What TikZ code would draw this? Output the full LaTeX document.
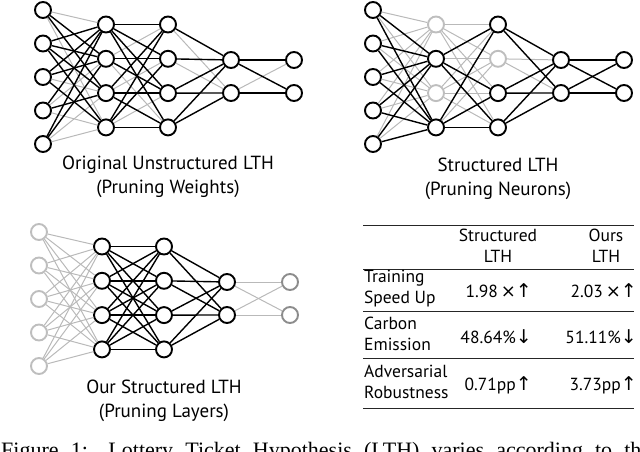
\documentclass[tikz,border=0pt]{standalone}
\usepackage{fontspec}
\setmainfont{PT Sans}
\newfontfamily\arrfont{DejaVu Sans}
\newfontfamily\capfont{Liberation Serif}
\usepackage{xcolor}
\definecolor{offc}{RGB}{190,190,190}
\definecolor{cutc}{RGB}{185,185,185}
\definecolor{outc}{RGB}{140,140,140}
\tikzset{
  neu/.style={circle,draw=black,line width=1.9pt,fill=white,minimum size=16pt,inner sep=0pt},
  neuoff/.style={neu,draw=offc},
  neuout/.style={neu,draw=outc},
  keep/.style={line width=1.4pt,black},
  cut/.style={line width=1pt,cutc},
  lab/.style={font=\fontsize{19}{24}\selectfont,align=center},
  cell/.style={font=\fontsize{17.5}{21}\selectfont,inner sep=0pt},
  rule/.style={line width=1pt,black!85},
}
\newcommand{\upa}{{\arrfont\fontsize{19}{19}\selectfont ↑}}
\newcommand{\dna}{{\arrfont\fontsize{19}{19}\selectfont ↓}}
\newcommand{\tms}{{\arrfont\fontsize{18}{18}\selectfont ×}}

\begin{document}
\begin{tikzpicture}[x=1pt,y=-1pt]
  \useasboundingbox (0,0) rectangle (640,452);
  % unstructured LTH (top left)
  \begin{scope}[shift={(43,77)}]
    \foreach \i in {1,...,5}{\node[neu] (u1\i) at (0,{-67+33.5*(\i-1)}){};}
    \foreach \i in {1,...,4}{
      \node[neu] (u2\i) at (63,{-52.5+34.3*(\i-1)}){};
      \node[neu] (u3\i) at (125,{-52.5+34.3*(\i-1)}){};}
    \foreach \i in {1,2}{
      \node[neu] (u4\i) at (188,{-17+33*(\i-1)}){};
      \node[neu] (u5\i) at (251,{-17+33*(\i-1)}){};}
    \foreach \s/\t in {1/1,1/4,3/3,4/2,4/4,5/3,5/4} \draw[cut] (u1\s)--(u2\t);
    \foreach \s/\t in {2/1,2/4,3/2,4/3} \draw[cut] (u2\s)--(u3\t);
    \foreach \s/\t in {1/2,2/2} \draw[cut] (u3\s)--(u4\t);
    \draw[cut] (u42)--(u51);
    \foreach \s/\t in {1/2,1/3,2/1,2/2,2/3,2/4,3/1,3/2,3/4,4/1,4/3,5/1,5/2} \draw[keep] (u1\s)--(u2\t);
    \foreach \s/\t in {1/1,1/2,1/3,1/4,2/2,2/3,3/1,3/3,3/4,4/1,4/2,4/4} \draw[keep] (u2\s)--(u3\t);
    \foreach \s/\t in {1/1,2/1,3/1,3/2,4/1,4/2} \draw[keep] (u3\s)--(u4\t);
    \foreach \s/\t in {1/1,1/2,2/2} \draw[keep] (u4\s)--(u5\t);
    \node[lab] (ucap) at (125,100) {Original Unstructured LTH\\(Pruning Weights)};
  \end{scope}
  % structured LTH, pruned neurons (top right)
  \begin{scope}[shift={(373,77)}]
    \foreach \i in {1,...,5}{\node[neu] (s1\i) at (0,{-67+33.5*(\i-1)}){};}
    \foreach \i/\st in {1/neuoff,2/neu,3/neuoff,4/neu}{
      \node[\st] (s2\i) at (63,{-52.5+34.3*(\i-1)}){};}
    \foreach \i/\st in {1/neu,2/neuoff,3/neu,4/neu}{
      \node[\st] (s3\i) at (125,{-52.5+34.3*(\i-1)}){};}
    \foreach \i in {1,2}{
      \node[neu] (s4\i) at (188,{-17+33*(\i-1)}){};
      \node[neu] (s5\i) at (251,{-17+33*(\i-1)}){};}
    \foreach \s in {1,...,5}{\draw[cut] (s1\s)--(s21); \draw[cut] (s1\s)--(s23);}
    \foreach \t in {1,...,4}{\draw[cut] (s21)--(s3\t); \draw[cut] (s23)--(s3\t);}
    \draw[cut] (s22)--(s32); \draw[cut] (s24)--(s32);
    \draw[cut] (s32)--(s41); \draw[cut] (s32)--(s42);
    \foreach \s in {1,...,5}{\draw[keep] (s1\s)--(s22); \draw[keep] (s1\s)--(s24);}
    \foreach \s in {2,4}{\foreach \t in {1,3,4} \draw[keep] (s2\s)--(s3\t);}
    \foreach \s in {1,3,4}{\foreach \t in {1,2} \draw[keep] (s3\s)--(s4\t);}
    \foreach \s in {1,2}{\foreach \t in {1,2} \draw[keep] (s4\s)--(s5\t);}
    \node[lab] (scap) at (125,102) {Structured LTH\\(Pruning Neurons)};
  \end{scope}
  % our structured LTH, pruned layers (bottom left)
  \begin{scope}[shift={(39,299)}]
    \foreach \i in {1,...,5}{\node[neuoff] (o1\i) at (0,{-67+33.5*(\i-1)}){};}
    \foreach \i in {1,...,4}{
      \node[neu] (o2\i) at (63,{-52.5+34.3*(\i-1)}){};
      \node[neu] (o3\i) at (125,{-52.5+34.3*(\i-1)}){};}
    \foreach \i in {1,2}{
      \node[neu] (o4\i) at (188,{-17+33*(\i-1)}){};
      \node[neuout] (o5\i) at (251,{-17+33*(\i-1)}){};}
    \foreach \s in {1,...,5}{\foreach \t in {1,...,4} \draw[cut] (o1\s)--(o2\t);}
    \foreach \s in {1,2}{\foreach \t in {1,2} \draw[cut] (o4\s)--(o5\t);}
    \foreach \s in {1,...,4}{\foreach \t in {1,...,4} \draw[keep] (o2\s)--(o3\t);}
    \foreach \s in {1,...,4}{\foreach \t in {1,2} \draw[keep] (o3\s)--(o4\t);}
    \node[lab] (ocap) at (125,102) {Our Structured LTH\\(Pruning Layers)};
  \end{scope}
  % comparison table (bottom right)
  \foreach \y in {225,269,311,358,408} \draw[rule] (363,\y)--(634,\y);
  \node[cell,align=center] (hs) at (498,246) {Structured\\LTH};
  \node[cell,align=center] (ho) at (606,246) {Ours\\LTH};
  \node[cell,align=left,anchor=west] (r1) at (364,289) {Training\\Speed Up};
  \node[cell,align=left,anchor=west] (r2) at (364,334) {Carbon\\Emission};
  \node[cell,align=left,anchor=west] (r3) at (364,382) {Adversarial\\Robustness};
  \node[cell,anchor=east] (v11) at (532,291) {1.98\,\tms\upa};
  \node[cell,anchor=east] (v12) at (637,291) {2.03\,\tms\upa};
  \node[cell,anchor=east] (v21) at (532,337) {48.64\%\dna};
  \node[cell,anchor=east] (v22) at (637,337) {51.11\%\dna};
  \node[cell,anchor=east] (v31) at (532,385) {0.71pp\upa};
  \node[cell,anchor=east] (v32) at (637,385) {3.73pp\upa};
  % figure caption, cut by the page edge
  \node[anchor=base west,inner sep=0pt,font=\capfont\fontsize{22}{26}\selectfont] (fig) at (1,457)
    {\makebox[650pt][s]{Figure 1: Lottery Ticket Hypothesis (LTH) varies according to the}};
\end{tikzpicture}
\end{document}
